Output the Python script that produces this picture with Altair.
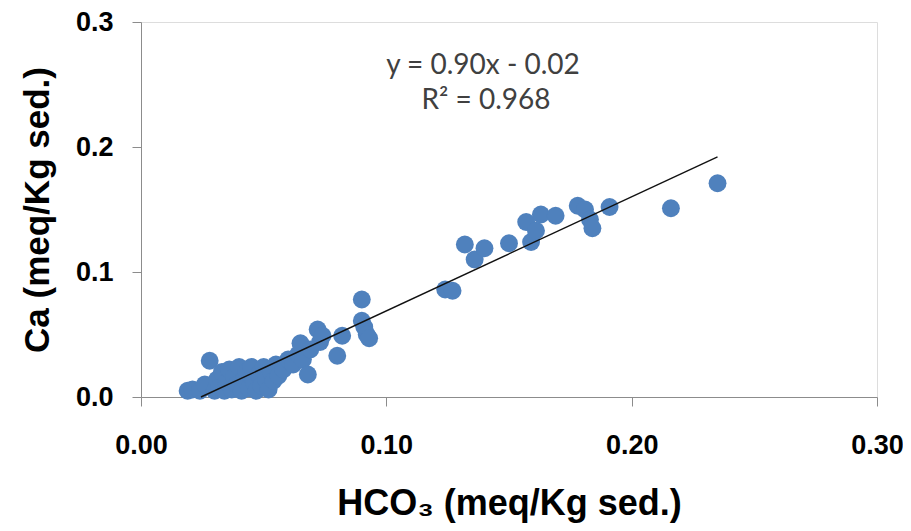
import altair as alt
import pandas as pd

# HCO3 (x) and Ca (y), meq/Kg sed.
hco3 = [0.019, 0.021, 0.024, 0.026, 0.028, 0.030, 0.031, 0.032, 0.033, 0.034,
        0.035, 0.036, 0.037, 0.038, 0.039, 0.040, 0.041, 0.042, 0.043, 0.044,
        0.045, 0.046, 0.047, 0.048, 0.049, 0.050, 0.051, 0.052, 0.053, 0.054,
        0.055, 0.056, 0.058, 0.060, 0.062, 0.064, 0.065, 0.066, 0.068, 0.069,
        0.072, 0.073, 0.074, 0.080, 0.082, 0.090, 0.090, 0.091, 0.092, 0.093,
        0.124, 0.127, 0.132, 0.136, 0.140, 0.150, 0.157, 0.159, 0.161, 0.163,
        0.169, 0.178, 0.181, 0.183, 0.184, 0.191, 0.216, 0.235]
ca = [0.005, 0.006, 0.005, 0.010, 0.029, 0.005, 0.014, 0.008, 0.020, 0.005,
      0.012, 0.022, 0.006, 0.016, 0.010, 0.024, 0.005, 0.014, 0.020, 0.007,
      0.024, 0.012, 0.005, 0.018, 0.009, 0.024, 0.014, 0.006, 0.020, 0.013,
      0.026, 0.017, 0.022, 0.030, 0.026, 0.034, 0.043, 0.030, 0.018, 0.038,
      0.054, 0.044, 0.049, 0.033, 0.049, 0.078, 0.061, 0.056, 0.050, 0.047,
      0.086, 0.085, 0.122, 0.110, 0.119, 0.123, 0.140, 0.124, 0.133, 0.146,
      0.145, 0.153, 0.150, 0.142, 0.135, 0.152, 0.151, 0.171]

trend_slope = 0.912
trend_intercept = -0.0223
equation_lines = ["y = 0.90x - 0.02", "R\u00b2 = 0.968"]

x_ticks = [0.0, 0.1, 0.2, 0.3]
y_ticks = [0.0, 0.1, 0.2, 0.3]

pts = pd.DataFrame({"hco3": hco3, "ca": ca})
x_start = -trend_intercept / trend_slope
x_end = max(hco3)
trend = pd.DataFrame({"hco3": [x_start, x_end],
                      "ca": [trend_slope * x_start + trend_intercept,
                             trend_slope * x_end + trend_intercept]})

W, H = 736, 375

x_enc = alt.X("hco3:Q",
              scale=alt.Scale(domain=[0, 0.3], nice=False),
              axis=alt.Axis(values=x_ticks, format=".2f", grid=False,
                            tickSize=9, labelPadding=26, labelFlush=False,
                            labelOverlap=False,
                            labelFont="Liberation Sans", labelFontWeight="bold",
                            labelFontSize=27, labelColor="black",
                            domainColor="#8c8c8c", tickColor="#8c8c8c",
                            title="HCO\u2083 (meq/Kg sed.)",
                            titleFont="Liberation Sans", titleFontWeight="bold",
                            titleFontSize=36, titleColor="black",
                            titleX=W / 2, titleY=117, titleAlign="center",
                            titleBaseline="alphabetic"))
y_enc = alt.Y("ca:Q",
              scale=alt.Scale(domain=[0, 0.3], nice=False),
              axis=alt.Axis(values=y_ticks, format=".1f", grid=False,
                            tickSize=9, labelPadding=19, labelFlush=False,
                            labelOverlap=False,
                            labelFont="Liberation Sans", labelFontWeight="bold",
                            labelFontSize=27, labelColor="black",
                            domainColor="#8c8c8c", tickColor="#8c8c8c",
                            title="Ca (meq/Kg sed.)",
                            titleFont="Liberation Sans", titleFontWeight="bold",
                            titleFontSize=35, titleColor="black",
                            titleX=-93, titleY=H / 2, titleAlign="center",
                            titleAngle=270, titleBaseline="alphabetic"))

points = alt.Chart(pts).mark_circle(size=320, color="#4F81BD", opacity=1).encode(
    x=x_enc, y=y_enc)

line = alt.Chart(trend).mark_line(color="#111111", strokeWidth=1.4).encode(
    x="hco3:Q", y="ca:Q")

eq_df = pd.DataFrame({"t": equation_lines, "row": [0, 1]})
eq1 = alt.Chart(eq_df).transform_filter("datum.row == 0").mark_text(
    font="Lato", fontSize=28, color="#404040", align="center", baseline="middle"
).encode(text="t:N", x=alt.value(342), y=alt.value(44))
eq2 = alt.Chart(eq_df).transform_filter("datum.row == 1").mark_text(
    font="Lato", fontSize=28, color="#404040", align="center", baseline="middle"
).encode(text="t:N", x=alt.value(345), y=alt.value(79))

chart = alt.layer(points, line, eq1, eq2).properties(
    width=W, height=H,
    autosize=alt.AutoSizeParams(type="none"),
    padding={"left": 133, "top": 14, "right": 26, "bottom": 126},
).configure_view(stroke=None).configure(background="white")

chart.save("out.html", embed_options={"renderer": "svg", "actions": False})
